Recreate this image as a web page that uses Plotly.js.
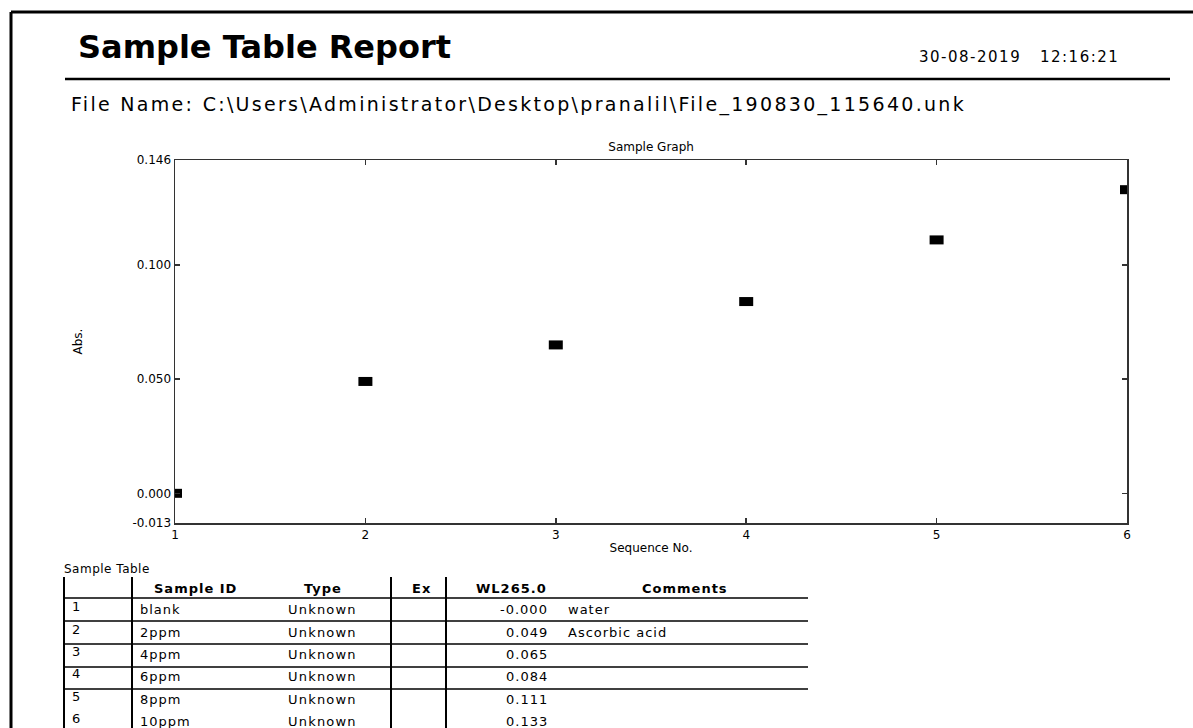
<!DOCTYPE html>
<html>
<head>
<meta charset="utf-8">
<script src="https://cdn.plot.ly/plotly-3.0.1.min.js"></script>
<style>
  html, body { margin: 0; padding: 0; background: #ffffff; }
  #chart { width: 1193px; height: 728px; }
</style>
</head>
<body>
<div id="chart"></div>
<script>
// ---- data ----
const sequenceNo = [1, 2, 3, 4, 5, 6];
const absValues = [0.000, 0.049, 0.065, 0.084, 0.111, 0.133];
const yTickVals = [-0.013, 0.000, 0.050, 0.100, 0.146];
const yTickText = ['-0.013', '0.000', '0.050', '0.100', '0.146'];
const xTickVals = [1, 2, 3, 4, 5, 6];

const tableHeaders = ['', 'Sample ID', 'Type', 'Ex', 'WL265.0', 'Comments'];
const rowIndex = ['1', '2', '3', '4', '5', '6'];
const sampleIds = ['blank', '2ppm', '4ppm', '6ppm', '8ppm', '10ppm'];
const sampleTypes = ['Unknown', 'Unknown', 'Unknown', 'Unknown', 'Unknown', 'Unknown'];
const wlText = ['-0.000', '0.049', '0.065', '0.084', '0.111', '0.133'];
const comments = ['water', 'Ascorbic acid', '', '', '', ''];

const reportTitle = 'Sample Table Report';
const reportDate = '30-08-2019\u00a0\u00a0\u00a012:16:21';
const fileName = 'File Name: C:\\Users\\Administrator\\Desktop\\pranalil\\File_190830_115640.unk';

// ---- geometry helpers (pixel -> paper) ----
const W = 1193, H = 728;
const M = { l: 175, r: 66, t: 160, b: 205 };
const PW = W - M.l - M.r, PH = H - M.t - M.b;
const px = v => (v - M.l) / PW;
const py = v => (H - M.b - v) / PH;

const FONT = 'DejaVu Sans, Verdana, sans-serif';
const shapes = [];
const annotations = [];

function line(x0, y0, x1, y1, w, c) {
  shapes.push({ type: 'line', xref: 'paper', yref: 'paper',
    x0: px(x0), y0: py(y0), x1: px(x1), y1: py(y1),
    line: { color: c || '#000', width: w } });
}
function text(t, x, y, size, anchor, bold, spacing) {
  let s = t;
  if (spacing) s = '<span style="letter-spacing:' + spacing + 'px">' + s + '</span>';
  if (bold) s = '<b>' + s + '</b>';
  annotations.push({ xref: 'paper', yref: 'paper', x: px(x), y: py(y),
    text: s, showarrow: false,
    xanchor: anchor || 'left', yanchor: 'middle',
    font: { family: FONT, size: size, color: '#000' } });
}

// page frame and header
line(11, 12, 1193, 12, 3);
line(11, 12, 11, 728, 3);
line(65, 79, 1170, 79, 2.5);
text(reportTitle, 76, 47, 32, 'left', true);
text(reportDate, 917, 57, 15, 'left', false, 1.5);
text(fileName, 69, 104, 19, 'left', false, 2.3);

// table
text('Sample Table', 62, 569, 12, 'left', false, 0.5);
const vLines = [64, 132, 391, 446];
vLines.forEach(x => line(x, 577, x, 728, 2));
const hLines = [598, 621, 644, 667, 689];
hLines.forEach(y => line(64, y, 808, y, 1.5));
const headerX = [0, 195, 323, 421, 549, 685];
const headerAnchor = ['left', 'center', 'center', 'center', 'right', 'center'];
tableHeaders.forEach((h, i) => { if (h) text(h, headerX[i], 588, 13, headerAnchor[i], true, 1); });
const rowY = [609, 632, 654, 676, 699, 721];
rowIndex.forEach((r, i) => {
  text(r, 70, rowY[i] - 3, 13, 'left');
  text(sampleIds[i], 138, rowY[i], 13, 'left', false, 1);
  text(sampleTypes[i], 286, rowY[i], 13, 'left', false, 1.2);
  text(wlText[i], 550, rowY[i], 13, 'right', false, 1);
  if (comments[i]) text(comments[i], 566, rowY[i], 13, 'left', false, 1);
});

const trace = {
  x: sequenceNo, y: absValues, type: 'scatter', mode: 'markers',
  cliponaxis: true,
  marker: { symbol: 'line-ew', size: 10, color: '#000', line: { color: '#000', width: 9 } },
  hoverinfo: 'skip'
};

const axisCommon = {
  showgrid: false, zeroline: false, showline: true, linecolor: '#333', linewidth: 1.5,
  mirror: 'ticks', ticks: 'inside', ticklen: 5, tickwidth: 1.5, tickcolor: '#333',
  tickfont: { family: FONT, size: 12, color: '#000' }, fixedrange: true
};

const layout = {
  width: W, height: H,
  margin: M,
  paper_bgcolor: '#fff', plot_bgcolor: '#fff',
  showlegend: false,
  title: { text: 'Sample Graph', x: 0.5458, xanchor: 'center', y: 1 - 147 / H, yanchor: 'middle',
    font: { family: FONT, size: 12, color: '#000' } },
  xaxis: Object.assign({}, axisCommon, {
    range: [1, 6], tickmode: 'array', tickvals: xTickVals,
    title: { text: 'Sequence No.', standoff: 2, font: { family: FONT, size: 12, color: '#000' } }
  }),
  yaxis: Object.assign({}, axisCommon, {
    range: [-0.013, 0.146], tickmode: 'array', tickvals: yTickVals, ticktext: yTickText,
    title: { text: 'Abs.', standoff: 47, font: { family: FONT, size: 12, color: '#000' } }
  }),
  shapes: shapes,
  annotations: annotations
};

Plotly.newPlot('chart', [trace], layout, { staticPlot: true, displayModeBar: false });
</script>
</body>
</html>
